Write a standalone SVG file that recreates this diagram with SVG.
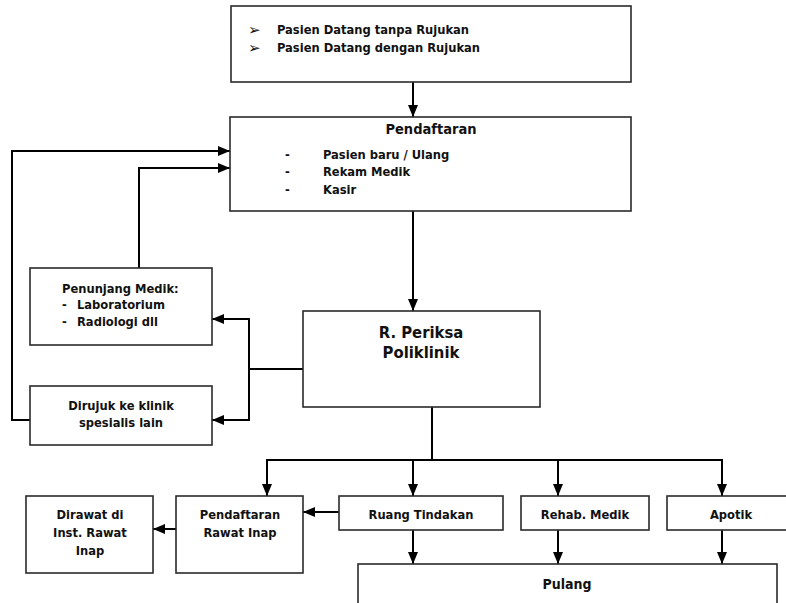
<svg xmlns="http://www.w3.org/2000/svg" width="786" height="603" viewBox="0 0 786 603">
  <style>
    .box { fill: #ffffff; stroke: #2a2a2a; stroke-width: 1.6; }
    .t { font-family: "DejaVu Sans Condensed", "DejaVu Sans", "Liberation Sans", sans-serif; font-weight: bold; font-size: 12.8px; fill: #111; }
    .c { text-anchor: middle; }
    .big { font-size: 16.5px; }
    .mid { font-size: 14px; }
    .head { font-size: 14.5px; }
    .bul { font-family: "DejaVu Sans", sans-serif; font-size: 15px; fill: #111; }
    .wire { fill: none; stroke: #000; stroke-width: 2; }
    .arr { fill: none; stroke: #000; stroke-width: 2; marker-end: url(#head); }
  </style>
  <defs>
    <marker id="head" viewBox="0 0 12 10" refX="12" refY="5" markerWidth="12" markerHeight="10" markerUnits="userSpaceOnUse" orient="auto">
      <path d="M0,0 L12,5 L0,10 Z" fill="#000"/>
    </marker>
  </defs>
  <rect width="786" height="603" fill="#fff"/>

  <g id="connectors">
    <!-- intake to registration -->
    <line class="arr" x1="413" y1="82" x2="413" y2="117"/>
    <!-- registration to polyclinic -->
    <line class="arr" x1="413" y1="211" x2="413" y2="311"/>
    <!-- return loops to registration -->
    <polyline class="arr" points="30,420 12,420 12,151 230,151"/>
    <polyline class="arr" points="139,268 139,168 230,168"/>
    <!-- polyclinic to support / referral -->
    <line class="wire" x1="303" y1="369" x2="249" y2="369"/>
    <line class="wire" x1="249" y1="319" x2="249" y2="420"/>
    <line class="arr" x1="250" y1="319" x2="212" y2="319"/>
    <line class="arr" x1="250" y1="420" x2="212" y2="420"/>
    <!-- polyclinic to downstream units -->
    <line class="wire" x1="432" y1="407" x2="432" y2="460"/>
    <line class="wire" x1="266" y1="460" x2="723" y2="460"/>
    <line class="arr" x1="267" y1="460" x2="267" y2="496"/>
    <line class="arr" x1="413" y1="460" x2="413" y2="496"/>
    <line class="arr" x1="558" y1="460" x2="558" y2="496"/>
    <line class="arr" x1="722" y1="460" x2="722" y2="496"/>
    <!-- inpatient path -->
    <line class="arr" x1="339" y1="512" x2="303" y2="512"/>
    <line class="arr" x1="176" y1="529" x2="153" y2="529"/>
    <!-- to discharge -->
    <line class="arr" x1="413" y1="530" x2="413" y2="564"/>
    <line class="arr" x1="558" y1="530" x2="558" y2="564"/>
    <line class="arr" x1="722" y1="530" x2="722" y2="564"/>
  </g>

  <g id="kedatangan">
    <rect class="box" x="231" y="6" width="400" height="76"/>
    <text class="bul" x="248" y="35">➢</text>
    <text class="t" x="277" y="34">Pasien Datang tanpa Rujukan</text>
    <text class="bul" x="248" y="53">➢</text>
    <text class="t" x="277" y="52">Pasien Datang dengan Rujukan</text>
  </g>

  <g id="pendaftaran">
    <rect class="box" x="230" y="117" width="401" height="94"/>
    <text class="t c head" x="431" y="134">Pendaftaran</text>
    <text class="t" x="285" y="159">-</text>
    <text class="t" x="323" y="159">Pasien baru / Ulang</text>
    <text class="t" x="285" y="176">-</text>
    <text class="t" x="323" y="176">Rekam Medik</text>
    <text class="t" x="285" y="194">-</text>
    <text class="t" x="323" y="194">Kasir</text>
  </g>

  <g id="penunjang">
    <rect class="box" x="30" y="268" width="182" height="77"/>
    <text class="t" x="62" y="293">Penunjang Medik:</text>
    <text class="t" x="62" y="309">-</text>
    <text class="t" x="77" y="309">Laboratorium</text>
    <text class="t" x="62" y="326">-</text>
    <text class="t" x="77" y="326">Radiologi dll</text>
  </g>

  <g id="dirujuk">
    <rect class="box" x="30" y="386" width="182" height="59"/>
    <text class="t c" x="121" y="410">Dirujuk ke klinik</text>
    <text class="t c" x="121" y="427">spesialis lain</text>
  </g>

  <g id="poliklinik">
    <rect class="box" x="303" y="311" width="237" height="96"/>
    <text class="t c big" x="421" y="338">R. Periksa</text>
    <text class="t c big" x="421" y="358">Poliklinik</text>
  </g>

  <g id="dirawat">
    <rect class="box" x="26" y="496" width="127" height="77"/>
    <text class="t c" x="90" y="519">Dirawat di</text>
    <text class="t c" x="90" y="537">Inst. Rawat</text>
    <text class="t c" x="90" y="555">Inap</text>
  </g>

  <g id="pendaftaran-rawat-inap">
    <rect class="box" x="176" y="496" width="127" height="77"/>
    <text class="t c" x="240" y="519">Pendaftaran</text>
    <text class="t c" x="240" y="537">Rawat Inap</text>
  </g>

  <g id="ruang-tindakan">
    <rect class="box" x="339" y="496" width="164" height="34"/>
    <text class="t c" x="421" y="519">Ruang Tindakan</text>
  </g>

  <g id="rehab-medik">
    <rect class="box" x="521" y="496" width="128" height="34"/>
    <text class="t c" x="585" y="519">Rehab. Medik</text>
  </g>

  <g id="apotik">
    <rect class="box" x="667" y="496" width="130" height="34"/>
    <text class="t c" x="731" y="519">Apotik</text>
  </g>

  <g id="pulang">
    <rect class="box" x="358" y="564" width="419" height="50"/>
    <text class="t c mid" x="567" y="589">Pulang</text>
  </g>
</svg>
